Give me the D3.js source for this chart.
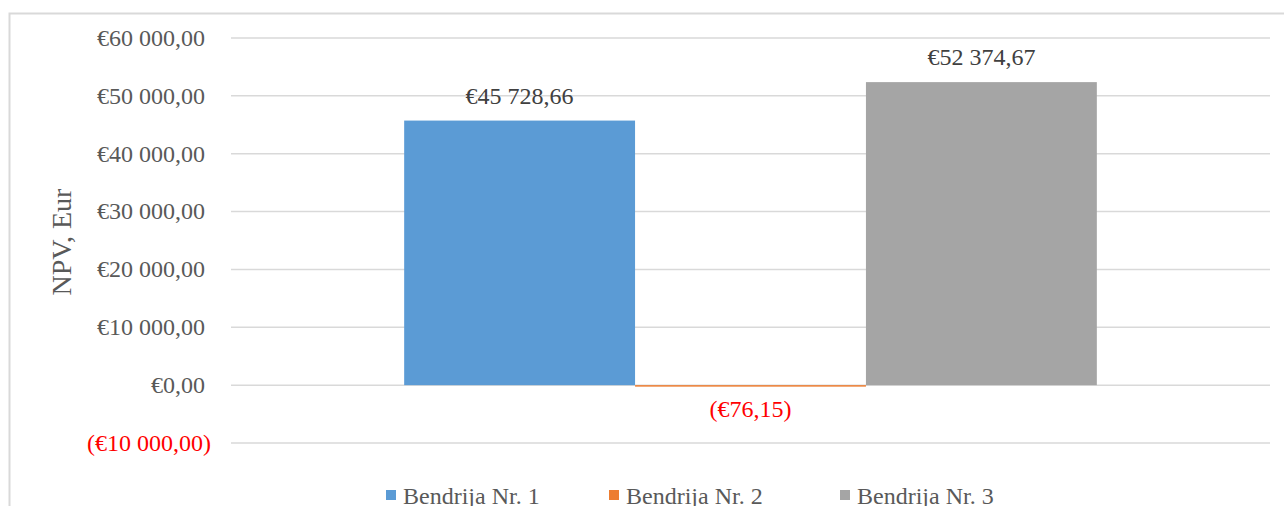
<!DOCTYPE html>
<html>
<head>
<meta charset="utf-8">
<title>NPV</title>
<script src="https://cdn.jsdelivr.net/npm/d3@7"></script>
<style>
  body { margin: 0; background: #fff; }
  svg text { font-family: "Liberation Serif", "Times New Roman", serif; }
</style>
</head>
<body>
<svg id="chart" width="1284" height="506"></svg>
<script>
// data
var series = ['Bendrija Nr. 1', 'Bendrija Nr. 2', 'Bendrija Nr. 3'];
var values = [45728.66, -76.15, 52374.67];
var colors = ['#5b9bd5', '#ed7d31', '#a5a5a5'];
var yTicks = [-10000, 0, 10000, 20000, 30000, 40000, 50000, 60000];

var svg = d3.select('#chart');

// chart area border
svg.append('rect')
  .attr('x', 9.5).attr('y', 13.5)
  .attr('width', 1300).attr('height', 520)
  .attr('fill', 'none').attr('stroke', '#d9d9d9').attr('stroke-width', 2);

var plot = { left: 231, right: 1270 };

var y = d3.scaleLinear().domain([-10000, 60000]).range([443, 38]);

var x = d3.scaleBand()
  .domain(series)
  .range([plot.left, plot.right])
  .paddingInner(0)
  .paddingOuter(0.75);

function fmt(v) {
  var s = d3.format(',.2f')(Math.abs(v)).replace(/,/g, ' ').replace('.', ',');
  return v < 0 ? '(€' + s + ')' : '€' + s;
}

// gridlines
svg.append('g').selectAll('line')
  .data(yTicks)
  .join('line')
  .attr('x1', plot.left).attr('x2', plot.right)
  .attr('y1', d => y(d)).attr('y2', d => y(d))
  .attr('stroke', '#d9d9d9').attr('stroke-width', 1.5);

// tick labels
svg.append('g').selectAll('text')
  .data(yTicks)
  .join('text')
  .attr('x', d => d < 0 ? 211 : 205)
  .attr('y', d => y(d))
  .attr('dy', '0.33em')
  .attr('text-anchor', 'end')
  .attr('font-size', 24)
  .attr('fill', d => d < 0 ? '#ff0000' : '#595959')
  .text(fmt);

// axis title
svg.append('text')
  .attr('transform', 'translate(71,242) rotate(-90)')
  .attr('text-anchor', 'middle')
  .attr('font-size', 28)
  .attr('fill', '#595959')
  .text('NPV, Eur');

// bars
svg.append('g').selectAll('rect')
  .data(values)
  .join('rect')
  .attr('x', (d, i) => x(series[i]))
  .attr('width', x.bandwidth())
  .attr('y', d => y(Math.max(0, d)))
  .attr('height', d => Math.max(1.5, Math.abs(y(d) - y(0))))
  .attr('fill', (d, i) => colors[i]);

// data labels
svg.append('g').selectAll('text')
  .data(values)
  .join('text')
  .attr('x', (d, i) => x(series[i]) + x.bandwidth() / 2)
  .attr('y', d => d < 0 ? y(d) + 31 : y(d) - 17)
  .attr('text-anchor', 'middle')
  .attr('font-size', 24)
  .attr('fill', d => d < 0 ? '#ff0000' : '#404040')
  .text(fmt);

// legend
var legendX = [386, 609, 840];
var legend = svg.append('g').selectAll('g')
  .data(series)
  .join('g')
  .attr('transform', (d, i) => 'translate(' + legendX[i] + ',490)');

legend.append('rect')
  .attr('width', 10).attr('height', 10)
  .attr('fill', (d, i) => colors[i]);

legend.append('text')
  .attr('x', 17).attr('y', 14)
  .attr('font-size', 24)
  .attr('fill', '#595959')
  .text(d => d);
</script>
</body>
</html>
